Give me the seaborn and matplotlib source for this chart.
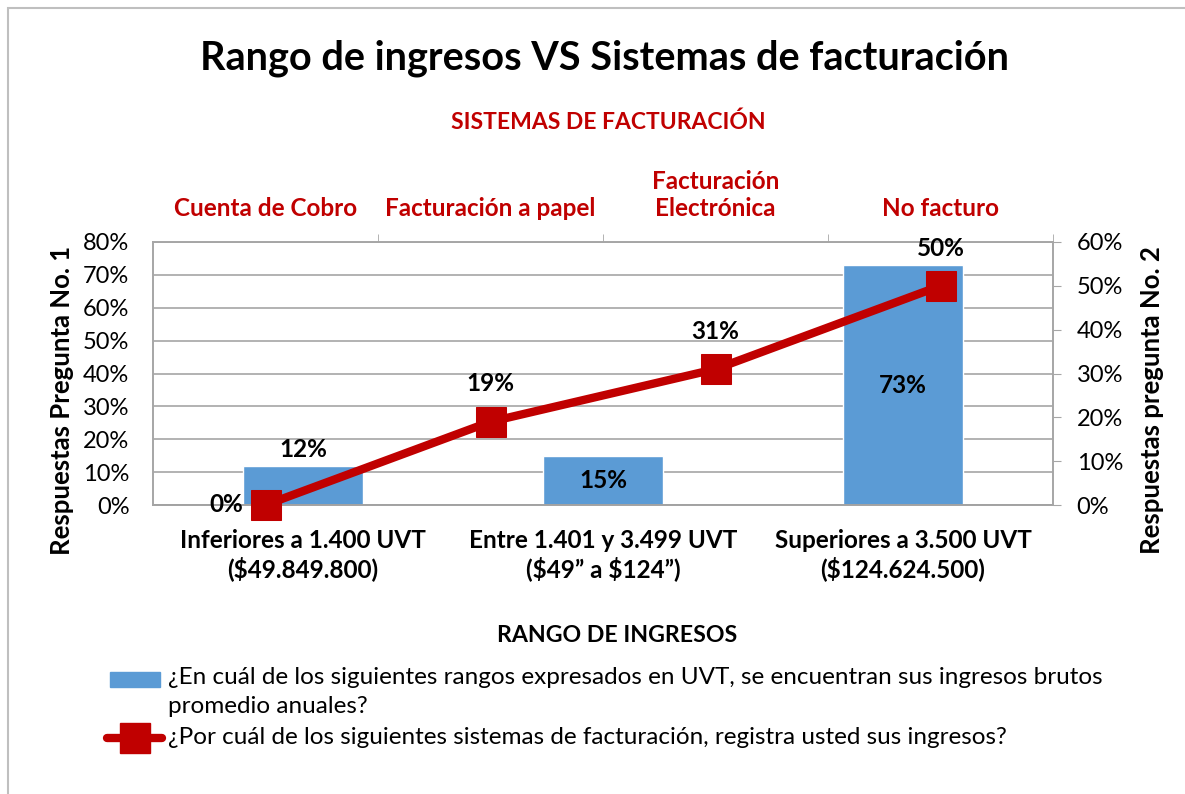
import matplotlib.pyplot as plt
import matplotlib.patches as mpatches
from matplotlib.lines import Line2D
import seaborn as sns
import pandas as pd

# datos
rangos = ["Inferiores a 1.400 UVT\n(\\$49.849.800)",
          "Entre 1.401 y 3.499 UVT\n(\\$49\u201d a \\$124\u201d)",
          "Superiores a 3.500 UVT\n(\\$124.624.500)"]
pct_rangos = [12, 15, 73]

sistemas = ["Cuenta de Cobro", "Facturación a papel",
            "Facturación\nElectrónica", "No facturo"]
pct_sistemas = [0, 19, 31, 50]

leyenda_barras = ("¿En cuál de los siguientes rangos expresados en UVT, se encuentran sus ingresos brutos\n"
                  "promedio anuales?")
leyenda_linea = "¿Por cuál de los siguientes sistemas de facturación, registra usted sus ingresos?"

AZUL = "#5B9BD5"
ROJO = "#C00000"
GRIS = "#A6A6A6"
W, H = 1185, 794

sns.set_style("white")
plt.rcParams["font.family"] = ["Lato", "DejaVu Sans"]
plt.rcParams["text.color"] = "black"
plt.rcParams["axes.labelcolor"] = "black"
plt.rcParams["xtick.color"] = "black"
plt.rcParams["ytick.color"] = "black"

fig = plt.figure(figsize=(W / 100, H / 100), dpi=100)
ax = fig.add_axes([153 / W, 1 - 505 / H, 900 / W, 263 / H])

df_bar = pd.DataFrame({"rango": rangos, "pct": pct_rangos})
sns.barplot(data=df_bar, x="rango", y="pct", color=AZUL, width=0.4,
            saturation=1, ax=ax, zorder=2)
ax.set_xlim(-0.5, 2.5)
ax.set_ylim(0, 80)
ax.set_yticks(range(0, 81, 10))
ax.set_yticklabels([f"{v}%" for v in range(0, 81, 10)], fontsize=17)
ax.yaxis.grid(True, color=GRIS, lw=1.2, zorder=0)
ax.set_axisbelow(True)
ax.tick_params(axis="y", length=0, pad=17)
ax.tick_params(axis="x", length=0, pad=17)
for lab in ax.get_xticklabels():
    lab.set_fontweight("bold")
    lab.set_fontsize(17.5)
ax.set_xlabel("")
ax.set_ylabel("")
for s in ax.spines.values():
    s.set_color(GRIS)
    s.set_linewidth(1.2)
ax.spines["bottom"].set_color("#8C8C8C")

# etiquetas de barras
for i, v in enumerate(pct_rangos):
    if v < 13:
        ax.text(i, v + 1.5, f"{v}%", ha="center", va="bottom", fontsize=17.5, fontweight="bold")
    else:
        ax.text(i, v / 2, f"{v}%", ha="center", va="center", fontsize=17.5, fontweight="bold")

# eje secundario
ax2 = ax.twinx()
ax2.set_ylim(0, 60)
ax2.set_yticks(range(0, 61, 10))
ax2.set_yticklabels([f"{v}%" for v in range(0, 61, 10)], fontsize=17)
ax2.tick_params(axis="y", direction="out", length=6, color=GRIS, pad=11)
for s in ax2.spines.values():
    s.set_color(GRIS)
    s.set_linewidth(1.2)

ax3 = ax2.twiny()
df_line = pd.DataFrame({"pos": range(len(sistemas)), "pct": pct_sistemas})
sns.lineplot(data=df_line, x="pos", y="pct", color=ROJO, lw=6, marker="s",
             markersize=22, markeredgecolor=ROJO, ax=ax3, zorder=5, clip_on=False)
ax3.set_xlim(-0.5, 3.5)
ax3.set_ylim(0, 60)
ax3.set_xticks(range(len(sistemas)))
ax3.set_xticklabels(sistemas, fontsize=17.5, fontweight="bold", color=ROJO)
ax3.set_xticks([0.5, 1.5, 2.5, 3.5], minor=True)
ax3.tick_params(axis="x", which="major", length=0, pad=16)
ax3.tick_params(axis="x", which="minor", length=6, color=GRIS, direction="out")
ax3.set_xlabel("")
ax3.set_ylabel("")
for s in ax3.spines.values():
    s.set_visible(False)

for i, v in enumerate(pct_sistemas):
    if v == 0:
        ax3.text(i - 0.1, v, f"{v}%", ha="right", va="center", fontsize=17.5, fontweight="bold")
    else:
        ax3.text(i, v + 6, f"{v}%", ha="center", va="bottom", fontsize=17.5, fontweight="bold")

# titulos y etiquetas de ejes
fig.text(608 / W, 1 - 122 / H, "SISTEMAS DE FACTURACIÓN", ha="center", va="center",
         fontsize=16.5, fontweight="bold", color=ROJO)
fig.text(604 / W, 1 - 58 / H, "Rango de ingresos VS Sistemas de facturación", ha="center",
         va="center", fontsize=28.5, fontweight="bold")
fig.text(617 / W, 1 - 636 / H, "RANGO DE INGRESOS", ha="center", va="center",
         fontsize=16.7, fontweight="bold")
fig.text(62 / W, 1 - 400 / H, "Respuestas Pregunta No. 1", rotation=90, ha="center",
         va="center", fontsize=18.5, fontweight="bold")
fig.text(1152 / W, 1 - 400 / H, "Respuestas pregunta No. 2", rotation=90, ha="center",
         va="center", fontsize=18.5, fontweight="bold")

# leyenda
fig.add_artist(mpatches.Rectangle((110 / W, 1 - 687 / H), 50 / W, 15 / H,
                                  transform=fig.transFigure, color=AZUL))
fig.text(168 / W, 1 - 667 / H, leyenda_barras, ha="left", va="top",
         fontsize=17.5, linespacing=1.45)
fig.text(168 / W, 1 - 738 / H, leyenda_linea, ha="left", va="center", fontsize=17.5)
fig.add_artist(Line2D([107 / W, 162 / W], [1 - 738 / H] * 2, transform=fig.transFigure,
                      color=ROJO, lw=6))
fig.add_artist(Line2D([135 / W], [1 - 738 / H], transform=fig.transFigure,
                      color=ROJO, marker="s", markersize=22))

fig.patches.append(mpatches.Rectangle((8 / W, -0.1), 1.2, 1.1 - 8 / H, transform=fig.transFigure,
                                      fill=False, edgecolor="#BFBFBF", lw=1.5))

fig.savefig("out.png", dpi=100)
